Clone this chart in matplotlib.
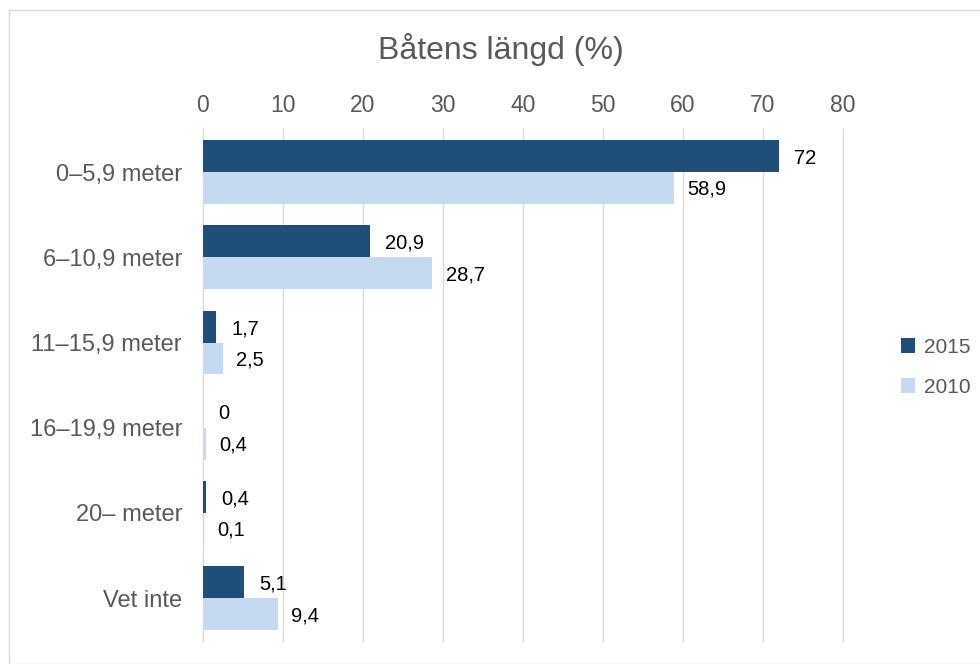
import matplotlib.pyplot as plt
from matplotlib.patches import Rectangle
import numpy as np

categories = ['0–5,9 meter', '6–10,9 meter', '11–15,9 meter', '16–19,9 meter', '20– meter', 'Vet inte']
v2015 = [72, 20.9, 1.7, 0, 0.4, 5.1]
v2010 = [58.9, 28.7, 2.5, 0.4, 0.1, 9.4]
lab2015 = ['72', '20,9', '1,7', '0', '0,4', '5,1']
lab2010 = ['58,9', '28,7', '2,5', '0,4', '0,1', '9,4']

c2015 = '#1F4E79'
c2010 = '#C5D9F1'
grey = '#595959'

plt.rcParams['font.family'] = ['Liberation Sans', 'DejaVu Sans']

fig = plt.figure(figsize=(9.8, 6.64), dpi=100)
ax = fig.add_axes([0.207, 0.035, 0.653, 0.77])

fig.patches.append(Rectangle((9 / 980, 0), 1, 1 - 10 / 664, transform=fig.transFigure,
                             fill=False, edgecolor='#D9D9D9', linewidth=1))

y = np.arange(len(categories))
h = 0.375
b1 = ax.barh(y - h / 2, v2015, height=h, color=c2015, label='2015', zorder=3)
b2 = ax.barh(y + h / 2, v2010, height=h, color=c2010, label='2010', zorder=3)

for i in range(len(categories)):
    ax.annotate(lab2015[i], (v2015[i], y[i] - h / 2), xytext=(11, -1.5), textcoords='offset points',
                va='center', ha='left', fontsize=14.5, color='black')
    ax.annotate(lab2010[i], (v2010[i], y[i] + h / 2), xytext=(9.5, -1), textcoords='offset points',
                va='center', ha='left', fontsize=14.5, color='black')

ax.set_xlim(0, 80)
ax.set_ylim(len(categories) - 0.5, -0.5)
ax.set_xticks(range(0, 81, 10))
ax.xaxis.tick_top()
ax.tick_params(axis='x', length=0, labelsize=16.5, labelcolor=grey, pad=9)
ax.set_yticks(y)
ax.set_yticklabels(categories)
ax.tick_params(axis='y', length=0, labelsize=17, labelcolor=grey, pad=15)
ax.grid(axis='x', color='#D9D9D9', linewidth=1, zorder=0)
for gl in ax.get_xgridlines():
    gl.set_clip_on(False)
for s in ax.spines.values():
    s.set_visible(False)

fig.text(0.511, 0.925, 'Båtens längd (%)', ha='center', va='center', fontsize=23, color=grey)

leg = fig.legend(handles=[b1, b2], loc='center left', bbox_to_anchor=(0.9, 0.447),
                 frameon=False, fontsize=15, handlelength=0.7, handleheight=0.7,
                 labelspacing=1.0, handletextpad=0.4)
for t in leg.get_texts():
    t.set_color(grey)

plt.savefig('out.png', dpi=100)
